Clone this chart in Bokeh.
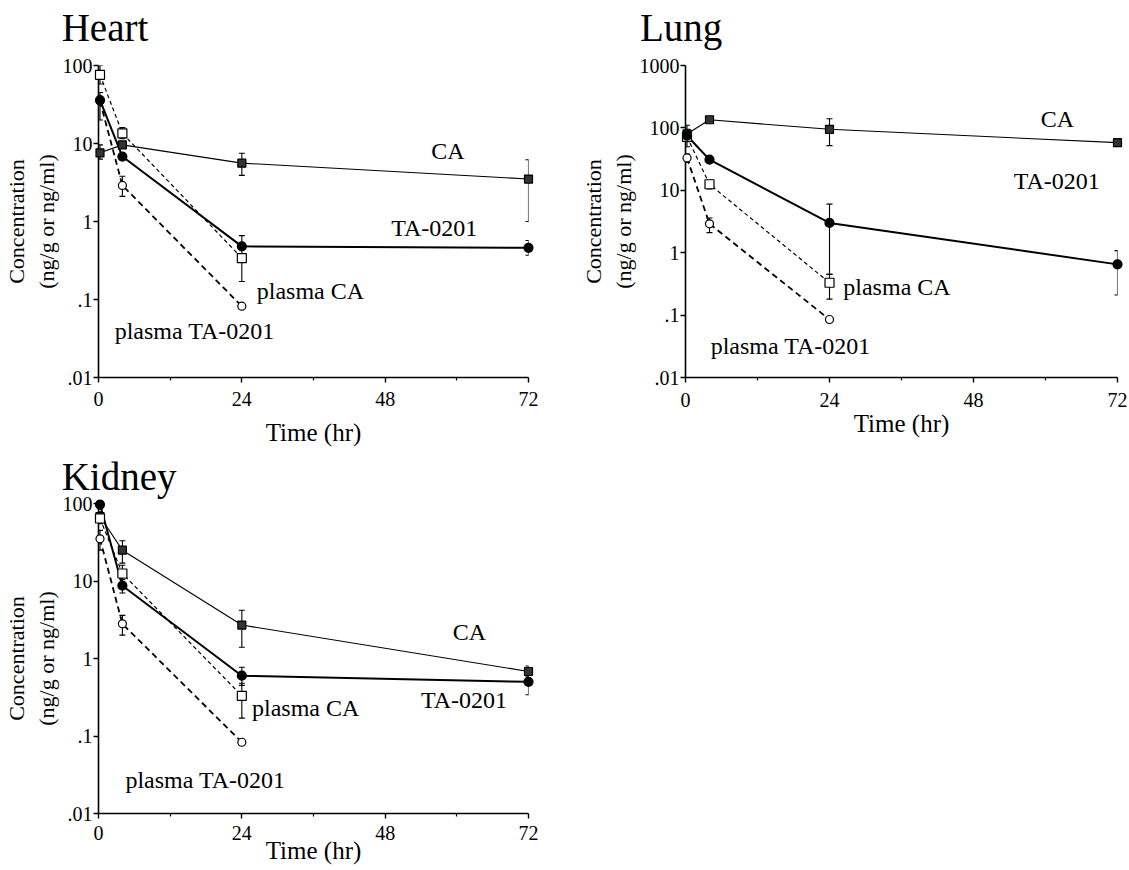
from bokeh.plotting import figure
from bokeh.models import Range1d, FixedTicker, CustomJSTickFormatter, Whisker, TeeHead, ColumnDataSource
from bokeh.layouts import column, row
from bokeh.embed import file_html
from bokeh.resources import INLINE
from bokeh.core.properties import value

SERIF = "Liberation Serif"

# ---------------- data ----------------
times = [0.25, 4, 24, 72]
plasma_times = [0.25, 4, 24]
x_ticks = [0, 24, 48, 72]
x_minor_ticks = [12, 36, 60]

# Heart
heart_ca = [7.6, 9.6, 5.6, 3.5]
heart_ca_lo = [6.3, 9.6, 3.9, 1.0]
heart_ca_hi = [9.6, 9.6, 7.5, 6.2]
heart_ta = [36, 6.8, 0.48, 0.46]
heart_ta_lo = [20, 6.8, 0.48, 0.37]
heart_ta_hi = [45, 6.8, 0.66, 0.57]
heart_pca = [76, 13.5, 0.34]
heart_pca_lo = [58, 11.5, 0.17]
heart_pca_hi = [100, 16, 0.5]
heart_pta = [35, 2.9, 0.082]
heart_pta_lo = [35, 2.1, 0.082]
heart_pta_hi = [35, 3.8, 0.082]

# Lung
lung_ca = [80, 135, 95, 58]
lung_ca_lo = [68, 135, 52, 58]
lung_ca_hi = [110, 135, 140, 58]
lung_ta = [75, 31, 3.0, 0.65]
lung_ta_lo = [60, 31, 0.45, 0.21]
lung_ta_hi = [90, 31, 6.0, 1.08]
lung_pca = [72, 12.5, 0.33]
lung_pca_lo = [50, 10.5, 0.18]
lung_pca_hi = [95, 14.5, 0.45]
lung_pta = [33, 2.9, 0.085]
lung_pta_lo = [28, 2.1, 0.085]
lung_pta_hi = [38, 3.6, 0.085]

# Kidney
kidney_ca = [68, 25, 2.7, 0.68]
kidney_ca_lo = [60, 17, 1.4, 0.58]
kidney_ca_hi = [78, 33, 4.2, 0.8]
kidney_ta = [97, 8.7, 0.6, 0.5]
kidney_ta_lo = [85, 7.0, 0.45, 0.34]
kidney_ta_hi = [100, 10.5, 0.77, 0.62]
kidney_pca = [64, 12.5, 0.33]
kidney_pca_lo = [55, 9.5, 0.17]
kidney_pca_hi = [75, 16, 0.48]
kidney_pta = [35, 2.8, 0.083]
kidney_pta_lo = [25, 2.0, 0.083]
kidney_pta_hi = [45, 3.6, 0.083]

# ---------------- styles ----------------
STYLES = {
    "CA": dict(line_width=1.1, line_dash="solid", marker="square", size=8, fill="#333333"),
    "TA-0201": dict(line_width=2.0, line_dash="solid", marker="circle", size=9, fill="black"),
    "plasma CA": dict(line_width=1.2, line_dash="4 3", marker="square", size=9, fill="white"),
    "plasma TA-0201": dict(line_width=1.8, line_dash="6 4", marker="circle", size=8, fill="white"),
}

fmt = CustomJSTickFormatter(code="""
if (tick >= 1) { return tick.toFixed(0); }
return String(tick).replace(/^0/, '');
""")


def make_panel(title, ymax, yticks, series, labels, width, height, borders,
               title_pos, tick_standoff, xlabel_standoff):
    bl, br, bt, bb = borders
    p = figure(width=width, height=height, y_axis_type="log",
               x_range=Range1d(0, 72), y_range=Range1d(0.01, ymax),
               output_backend="svg", toolbar_location=None,
               min_border_left=bl, min_border_right=br,
               min_border_top=bt, min_border_bottom=bb)
    p.outline_line_color = None
    p.grid.grid_line_color = None
    p.background_fill_color = "white"
    p.border_fill_color = "white"

    for ax in (p.xaxis[0], p.yaxis[0]):
        ax.axis_line_width = 1.6
        ax.axis_line_color = "black"
        ax.major_tick_line_width = 1.4
        ax.major_tick_line_color = "black"
        ax.major_tick_in = 0
        ax.major_tick_out = 5
        ax.major_label_text_font = SERIF
        ax.major_label_text_font_size = "20px"
        ax.major_label_text_color = "black"
        ax.axis_label_text_font = SERIF
        ax.axis_label_text_font_style = "normal"
        ax.axis_label_text_color = "black"

    p.xaxis.ticker = FixedTicker(ticks=x_ticks, minor_ticks=x_minor_ticks)
    p.xaxis.minor_tick_in = 0
    p.xaxis.minor_tick_out = 3
    p.xaxis.minor_tick_line_width = 1.2
    p.xaxis.minor_tick_line_color = "black"
    p.xaxis.major_label_standoff = tick_standoff
    p.xaxis.axis_label = "Time (hr)"
    p.xaxis.axis_label_text_font_size = "25px"
    p.xaxis.axis_label_standoff = xlabel_standoff

    p.yaxis.ticker = FixedTicker(ticks=yticks, minor_ticks=[])
    p.yaxis.formatter = fmt
    p.yaxis.major_label_standoff = 1
    p.yaxis.axis_label = "Concentration\n(ng/g or ng/ml)"
    p.yaxis.axis_label_text_font_size = "22px"
    p.yaxis.axis_label_standoff = 1

    # panel title: text glyph at overlay level (not clipped to the frame)
    tx, ty = title_pos
    p.text(x=[tx], y=[ty], text=[title], text_font=value(SERIF), text_font_size="39px",
           text_color="black", text_baseline="middle", text_align="left", level="overlay")

    # lines
    for name, (t, y, lo, hi) in series.items():
        st = STYLES[name]
        p.line(t, y, line_color="black", line_width=st["line_width"], line_dash=st["line_dash"])
    # error bars
    for name, (t, y, lo, hi) in series.items():
        idx = [i for i in range(len(t)) if hi[i] > lo[i]]
        if not idx:
            continue
        src = ColumnDataSource(dict(x=[t[i] for i in idx], lo=[lo[i] for i in idx], hi=[hi[i] for i in idx]))
        w = Whisker(base="x", lower="lo", upper="hi", source=src, line_color="black", line_width=1.1,
                    upper_head=TeeHead(size=6, line_width=1.1), lower_head=TeeHead(size=6, line_width=1.1),
                    level="annotation")
        p.add_layout(w)
    # markers (overlay level so those on the axes are not clipped)
    for name, (t, y, lo, hi) in series.items():
        st = STYLES[name]
        p.scatter(t, y, marker=st["marker"], size=st["size"], fill_color=st["fill"],
                  line_color="black", line_width=1.2, level="overlay")
    # text labels
    for txt, (lx, ly) in labels.items():
        p.text(x=[lx], y=[ly], text=[txt], text_font=value(SERIF), text_font_size="24px",
               text_baseline="middle", text_align="left", text_color="black")
    return p


heart = make_panel(
    "Heart", 100, [0.01, 0.1, 1, 10, 100],
    {
        "CA": (times, heart_ca, heart_ca_lo, heart_ca_hi),
        "plasma CA": (plasma_times, heart_pca, heart_pca_lo, heart_pca_hi),
        "plasma TA-0201": (plasma_times, heart_pta, heart_pta_lo, heart_pta_hi),
        "TA-0201": (times, heart_ta, heart_ta_lo, heart_ta_hi),
    },
    {"CA": (55.7, 8.1), "TA-0201": (49, 0.82), "plasma CA": (26.5, 0.13), "plasma  TA-0201": (2.7, 0.04)},
    width=568, height=453, borders=(96, 40, 65, 76),
    title_pos=(-6.17, 307), tick_standoff=9, xlabel_standoff=10)

lung = make_panel(
    "Lung", 1000, [0.01, 0.1, 1, 10, 100, 1000],
    {
        "CA": (times, lung_ca, lung_ca_lo, lung_ca_hi),
        "plasma CA": (plasma_times, lung_pca, lung_pca_lo, lung_pca_hi),
        "plasma TA-0201": (plasma_times, lung_pta, lung_pta_lo, lung_pta_hi),
        "TA-0201": (times, lung_ta, lung_ta_lo, lung_ta_hi),
    },
    {"CA": (59.2, 141), "TA-0201": (54.7, 14.3), "plasma CA": (26.3, 0.28), "plasma  TA-0201": (4.2, 0.032)},
    width=560, height=453, borders=(117, 11, 65, 76),
    title_pos=(-7.6, 4074), tick_standoff=10, xlabel_standoff=0)

kidney = make_panel(
    "Kidney", 100, [0.01, 0.1, 1, 10, 100],
    {
        "CA": (times, kidney_ca, kidney_ca_lo, kidney_ca_hi),
        "plasma CA": (plasma_times, kidney_pca, kidney_pca_lo, kidney_pca_hi),
        "plasma TA-0201": (plasma_times, kidney_pta, kidney_pta_lo, kidney_pta_hi),
        "TA-0201": (times, kidney_ta, kidney_ta_lo, kidney_ta_hi),
    },
    {"CA": (59.3, 2.2), "TA-0201": (54, 0.29), "plasma CA": (25.7, 0.23), "plasma TA-0201": (4.5, 0.027)},
    width=568, height=417, borders=(96, 40, 50, 57),
    title_pos=(-6.17, 223), tick_standoff=7, xlabel_standoff=-6)

layout = column(row(heart, lung), kidney)
open("out.html", "w").write(file_html(layout, INLINE))
